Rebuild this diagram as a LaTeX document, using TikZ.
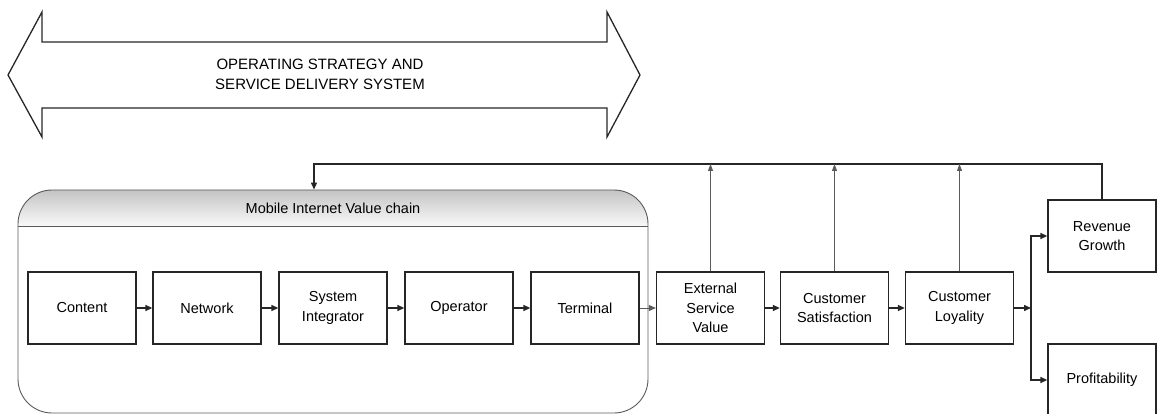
\documentclass[tikz,border=0pt]{standalone}
\usepackage{fontspec}
\setmainfont{Liberation Sans}
\usetikzlibrary{arrows.meta}
\definecolor{ink}{HTML}{262626}
\definecolor{thinink}{HTML}{5A5A5A}
\definecolor{headtop}{HTML}{C4C4C4}
\definecolor{headbot}{HTML}{FAFAFA}
\begin{document}
\begin{tikzpicture}[x=1pt,y=-1pt,
  stagebox/.style={draw=ink, line width=1.3pt, minimum width=108pt, minimum height=72pt,
    inner sep=0pt, align=center, font=\fontsize{14.5}{19.5}\selectfont},
  flow/.style={draw=ink, line width=1.4pt, -{Triangle[length=7pt,width=6pt]}},
  thinflow/.style={draw=thinink, line width=0.9pt, -{Triangle[length=7pt,width=6pt]}},
  feedback/.style={draw=ink, line width=1.3pt},
  uparrow/.style={draw=thinink, line width=0.9pt, -{Triangle[length=7pt,width=5pt]}}]
\useasboundingbox (0,0) rectangle (1167,414);

% strategy double arrow
\draw[ink, line width=1.3pt, line join=miter]
  (8,75) -- (42,12) -- (42,42) -- (607,42) -- (607,12) -- (640,75)
  -- (607,137) -- (607,108) -- (42,108) -- (42,137) -- cycle;
\node[align=center, font=\fontsize{15}{20}\selectfont] (strategy) at (320,74)
  {OPERATING STRATEGY AND\\SERVICE DELIVERY SYSTEM};

% value chain container with shaded header
\begin{scope}
  \clip[rounded corners=34pt] (18,190) rectangle (648,413);
  \shade[top color=headtop, bottom color=headbot] (18,190) rectangle (648,226.5);
\end{scope}
\draw[thinink, line width=0.9pt] (18,226.5) -- (648,226.5);
\node[draw=thinink, line width=0.9pt, rounded corners=34pt, minimum width=630pt,
  minimum height=223pt, inner sep=0pt] (chain) at (333,301.5) {};
\node[font=\fontsize{14.5}{19.5}\selectfont] (chaintitle) at (333,208) {Mobile Internet Value chain};

% stages
\node[stagebox] (content)  at (82,308)   {Content};
\node[stagebox] (network)  at (207,308)  {Network};
\node[stagebox] (sysint)   at (333,308)  {System\\Integrator};
\node[stagebox] (operator) at (459,308)  {Operator};
\node[stagebox] (terminal) at (585,308)  {Terminal};
\node[stagebox] (esv)      at (710.5,308) {External\\Service\\Value};
\node[stagebox] (satisf)   at (834.5,308) {Customer\\Satisfaction};
\node[stagebox] (loyal)    at (959.5,308) {Customer\\Loyality};
\node[stagebox] (revenue)  at (1102,236) {Revenue\\Growth};
\node[stagebox] (profit)   at (1102,380) {Profitability};

% chain flow
\draw[flow] (content) -- (network);
\draw[flow] (network) -- (sysint);
\draw[flow] (sysint) -- (operator);
\draw[flow] (operator) -- (terminal);
\draw[thinflow] (terminal) -- (esv);
\draw[flow] (esv) -- (satisf);
\draw[flow] (satisf) -- (loyal);

% split to results
\coordinate (split) at (1031,308);
\draw[flow] (loyal) -- (split);
\draw[flow] (split) |- (revenue);
\draw[flow] (split) |- (profit);

% feedback loop
\coordinate (fb) at (314,164);
\draw[feedback, -{Triangle[length=7pt,width=6pt]}] (revenue.north) |- (fb) -- (fb |- chain.north);
\draw[uparrow] (esv.north) -- (esv.north |- fb);
\draw[uparrow] (satisf.north) -- (satisf.north |- fb);
\draw[uparrow] (loyal.north) -- (loyal.north |- fb);
\end{tikzpicture}
\end{document}
